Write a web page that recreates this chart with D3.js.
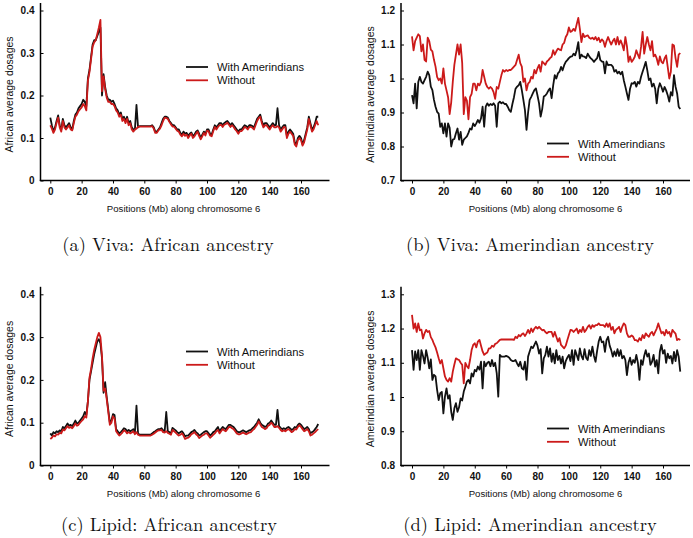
<!DOCTYPE html>
<html><head><meta charset="utf-8">
<script src="https://cdn.jsdelivr.net/npm/d3@7"></script>
<style>body{margin:0;background:#fff}svg{display:block}</style>
</head><body>
<svg id="c" width="693" height="538"></svg>
<script>
const positions = [0,1,2,3,4,5,6,7,8,9,10,11,12,13,14,15,16,17,18,19,20,21,22,23,24,25,26,27,28,29,30,31,32,33,34,35,36,37,38,39,40,41,42,43,44,45,46,47,48,49,50,51,52,53,54,55,56,57,58,59,60,61,62,63,64,65,66,67,68,69,70,71,72,73,74,75,76,77,78,79,80,81,82,83,84,85,86,87,88,89,90,91,92,93,94,95,96,97,98,99,100,101,102,103,104,105,106,107,108,109,110,111,112,113,114,115,116,117,118,119,120,121,122,123,124,125,126,127,128,129,130,131,132,133,134,135,136,137,138,139,140,141,142,143,144,145,146,147,148,149,150,151,152,153,154,155,156,157,158,159,160,161,162,163,164,165,166,167,168,169,170,171];

const vivaAfricanWith = [0.148,0.13,0.115,0.125,0.14,0.153,0.13,0.12,0.145,0.13,0.125,0.13,0.135,0.125,0.12,0.14,0.155,0.16,0.17,0.175,0.18,0.19,0.185,0.175,0.24,0.26,0.29,0.32,0.33,0.33,0.34,0.35,0.36,0.2,0.25,0.22,0.2,0.19,0.19,0.185,0.188,0.18,0.17,0.165,0.155,0.16,0.145,0.15,0.14,0.15,0.135,0.14,0.125,0.12,0.12,0.178,0.125,0.128,0.128,0.128,0.128,0.128,0.128,0.128,0.128,0.13,0.125,0.115,0.115,0.12,0.125,0.135,0.145,0.15,0.15,0.148,0.14,0.135,0.13,0.13,0.125,0.12,0.12,0.112,0.108,0.115,0.11,0.112,0.105,0.11,0.113,0.105,0.108,0.115,0.118,0.11,0.1,0.108,0.115,0.11,0.12,0.12,0.11,0.108,0.12,0.13,0.125,0.13,0.135,0.135,0.13,0.135,0.138,0.14,0.135,0.13,0.135,0.13,0.125,0.12,0.115,0.12,0.12,0.125,0.13,0.128,0.125,0.13,0.13,0.128,0.125,0.135,0.145,0.15,0.155,0.14,0.13,0.135,0.135,0.13,0.125,0.13,0.135,0.13,0.13,0.17,0.13,0.12,0.125,0.13,0.13,0.105,0.115,0.12,0.115,0.11,0.09,0.085,0.1,0.105,0.1,0.085,0.095,0.11,0.125,0.15,0.135,0.12,0.125,0.135,0.15,0.15];
const vivaAfricanWithout = [0.13,0.122,0.112,0.12,0.135,0.148,0.125,0.115,0.14,0.125,0.12,0.125,0.13,0.12,0.118,0.135,0.15,0.155,0.163,0.168,0.172,0.18,0.175,0.165,0.235,0.255,0.285,0.315,0.325,0.33,0.345,0.36,0.378,0.21,0.245,0.215,0.195,0.185,0.185,0.18,0.18,0.175,0.165,0.16,0.15,0.155,0.14,0.145,0.135,0.145,0.13,0.135,0.12,0.115,0.12,0.122,0.126,0.127,0.127,0.127,0.127,0.127,0.127,0.127,0.127,0.128,0.122,0.112,0.112,0.118,0.122,0.13,0.14,0.148,0.147,0.145,0.138,0.132,0.127,0.127,0.122,0.117,0.115,0.108,0.104,0.11,0.105,0.108,0.1,0.106,0.11,0.1,0.104,0.11,0.115,0.105,0.097,0.104,0.112,0.106,0.117,0.116,0.106,0.104,0.116,0.126,0.12,0.126,0.13,0.131,0.126,0.131,0.133,0.136,0.131,0.126,0.13,0.126,0.12,0.116,0.11,0.116,0.116,0.12,0.126,0.124,0.12,0.126,0.126,0.124,0.12,0.13,0.14,0.147,0.15,0.135,0.125,0.13,0.13,0.125,0.12,0.126,0.13,0.125,0.125,0.128,0.125,0.115,0.12,0.126,0.125,0.1,0.11,0.115,0.11,0.105,0.085,0.08,0.095,0.1,0.095,0.082,0.09,0.105,0.12,0.145,0.13,0.115,0.12,0.13,0.14,0.13];

const vivaAmerindianWith = [0.951,0.927,0.985,0.912,0.99,1.005,0.99,0.985,0.995,1.005,1.02,1.01,0.976,0.966,0.937,0.917,0.902,0.897,0.858,0.868,0.839,0.868,0.829,0.868,0.855,0.8,0.82,0.822,0.839,0.853,0.82,0.843,0.805,0.82,0.825,0.83,0.84,0.853,0.85,0.868,0.86,0.868,0.878,0.87,0.883,0.917,0.858,0.917,0.927,0.92,0.925,0.922,0.927,0.92,0.858,0.927,0.932,0.927,0.93,0.925,0.925,0.917,0.907,0.902,0.925,0.945,0.97,0.976,0.98,0.99,0.966,0.937,0.907,0.849,0.9,0.937,0.946,0.956,0.966,0.971,0.95,0.927,0.888,0.91,0.947,0.95,0.956,0.965,0.971,0.942,0.98,1.01,1.0,1.015,1.02,1.034,1.024,1.039,1.049,1.054,1.06,1.064,1.065,1.073,1.068,1.083,1.107,1.059,1.07,1.065,1.064,1.06,1.073,1.065,1.059,1.055,1.049,1.055,1.06,1.078,1.055,1.05,1.049,1.015,1.05,1.039,1.04,1.04,1.035,1.02,1.025,1.015,1.02,1.012,1.02,0.995,0.976,0.956,0.937,0.97,0.986,0.985,0.99,0.976,0.99,0.985,1.005,1.02,1.034,1.049,1.024,0.995,1.0,0.976,0.985,0.97,0.927,0.97,0.986,0.975,0.961,0.975,0.965,0.951,0.932,0.96,0.95,1.01,0.976,0.956,0.917,0.91];
const vivaAmerindianWithout = [1.124,1.083,1.11,1.12,1.13,1.125,1.08,1.1,1.055,1.05,1.12,1.11,1.085,1.08,1.055,1.035,1.005,0.995,1.0,0.985,1.03,0.985,0.965,0.945,0.895,0.93,0.99,1.04,1.07,1.1,1.07,1.1,1.045,0.895,0.945,0.935,0.88,0.945,0.955,0.985,0.985,0.965,0.985,0.98,0.99,1.025,1.005,0.985,0.975,0.97,0.975,0.97,0.96,0.94,0.975,0.97,0.99,1.01,1.025,1.02,1.025,1.022,1.025,1.025,1.03,1.035,1.04,1.055,1.07,1.045,1.035,0.99,1.0,0.965,0.985,0.99,1.005,1.0,1.025,1.015,1.03,1.04,1.02,1.05,1.045,1.04,1.05,1.054,1.06,1.064,1.083,1.07,1.08,1.088,1.085,1.083,1.1,1.105,1.122,1.13,1.15,1.137,1.14,1.146,1.14,1.16,1.178,1.146,1.107,1.132,1.122,1.125,1.127,1.12,1.117,1.12,1.115,1.122,1.112,1.12,1.107,1.115,1.11,1.093,1.11,1.122,1.11,1.1,1.11,1.117,1.1,1.122,1.1,1.112,1.1,1.083,1.122,1.095,1.049,1.065,1.049,1.055,1.064,1.083,1.07,1.059,1.093,1.137,1.073,1.1,1.122,1.1,1.083,1.11,1.065,1.07,1.059,1.04,1.065,1.049,1.045,1.059,1.068,1.034,1.0,1.02,1.1,1.097,1.06,1.034,1.07,1.075];

const lipidAfricanWith = [0.075,0.07,0.078,0.075,0.08,0.078,0.082,0.08,0.09,0.087,0.092,0.098,0.093,0.095,0.092,0.098,0.105,0.098,0.1,0.105,0.11,0.115,0.125,0.118,0.15,0.2,0.22,0.24,0.26,0.275,0.29,0.295,0.285,0.25,0.17,0.195,0.16,0.13,0.1,0.105,0.12,0.118,0.085,0.08,0.075,0.078,0.082,0.087,0.085,0.08,0.083,0.08,0.082,0.085,0.077,0.14,0.075,0.072,0.072,0.072,0.072,0.072,0.072,0.072,0.072,0.075,0.078,0.08,0.083,0.085,0.085,0.087,0.082,0.08,0.125,0.08,0.078,0.075,0.088,0.085,0.082,0.078,0.075,0.078,0.08,0.075,0.068,0.07,0.07,0.074,0.078,0.08,0.083,0.078,0.075,0.07,0.072,0.075,0.078,0.08,0.08,0.075,0.07,0.073,0.078,0.08,0.085,0.09,0.08,0.085,0.09,0.087,0.085,0.09,0.095,0.095,0.092,0.09,0.085,0.08,0.078,0.078,0.08,0.082,0.08,0.078,0.08,0.082,0.083,0.087,0.09,0.095,0.1,0.108,0.1,0.095,0.093,0.09,0.092,0.098,0.1,0.105,0.1,0.095,0.095,0.13,0.092,0.088,0.085,0.087,0.085,0.088,0.09,0.087,0.083,0.085,0.09,0.088,0.095,0.098,0.095,0.09,0.085,0.087,0.09,0.085,0.075,0.078,0.08,0.085,0.09,0.097];
const lipidAfricanWithout = [0.062,0.065,0.07,0.068,0.073,0.072,0.076,0.075,0.084,0.082,0.087,0.092,0.088,0.09,0.087,0.092,0.098,0.093,0.095,0.1,0.104,0.108,0.115,0.112,0.15,0.205,0.225,0.25,0.27,0.285,0.3,0.31,0.3,0.255,0.175,0.18,0.155,0.125,0.095,0.1,0.115,0.11,0.08,0.075,0.07,0.073,0.077,0.082,0.08,0.075,0.078,0.075,0.077,0.08,0.073,0.078,0.072,0.07,0.07,0.07,0.07,0.07,0.07,0.07,0.07,0.072,0.074,0.077,0.08,0.082,0.082,0.083,0.078,0.077,0.08,0.076,0.074,0.072,0.083,0.08,0.077,0.073,0.07,0.072,0.075,0.07,0.062,0.064,0.065,0.068,0.073,0.075,0.078,0.073,0.07,0.064,0.067,0.07,0.072,0.075,0.075,0.07,0.065,0.068,0.072,0.075,0.08,0.083,0.075,0.08,0.085,0.082,0.08,0.085,0.09,0.09,0.087,0.085,0.08,0.075,0.073,0.073,0.075,0.077,0.075,0.073,0.075,0.077,0.078,0.082,0.085,0.09,0.095,0.103,0.096,0.09,0.088,0.085,0.087,0.093,0.095,0.1,0.096,0.09,0.09,0.092,0.088,0.083,0.08,0.082,0.08,0.083,0.085,0.082,0.078,0.08,0.085,0.084,0.09,0.094,0.09,0.085,0.08,0.082,0.085,0.08,0.07,0.072,0.075,0.078,0.082,0.085];

const lipidAmerindianWith = [1.137,1.079,1.133,1.108,1.137,1.079,1.137,1.12,1.098,1.137,1.115,1.084,1.11,1.05,1.065,1.06,1.021,0.991,1.011,1.015,0.952,1.001,1.025,0.995,1.005,0.957,0.933,0.967,0.982,0.957,0.97,0.996,0.99,1.016,1.03,1.045,1.05,1.04,1.069,1.06,1.079,1.075,1.089,1.08,1.103,1.025,1.103,1.09,1.1,1.103,1.09,1.108,1.09,1.1,1.07,1.001,1.123,1.118,1.118,1.118,1.12,1.118,1.115,1.108,1.105,1.105,1.108,1.098,1.09,1.103,1.084,1.08,1.103,1.05,1.118,1.133,1.147,1.143,1.152,1.162,1.15,1.127,1.14,1.069,1.113,1.123,1.147,1.118,1.142,1.103,1.127,1.098,1.137,1.108,1.12,1.098,1.118,1.084,1.105,1.115,1.123,1.105,1.137,1.094,1.137,1.123,1.108,1.142,1.12,1.11,1.14,1.115,1.108,1.137,1.12,1.147,1.12,1.103,1.135,1.162,1.176,1.16,1.162,1.132,1.166,1.176,1.15,1.137,1.118,1.133,1.12,1.14,1.12,1.137,1.113,1.12,1.108,1.064,1.1,1.115,1.094,1.108,1.1,1.123,1.1,1.05,1.108,1.094,1.12,1.137,1.118,1.127,1.094,1.103,1.123,1.089,1.108,1.069,1.133,1.152,1.127,1.137,1.1,1.127,1.113,1.12,1.098,1.132,1.105,1.137,1.118,1.074];
const lipidAmerindianWithout = [1.24,1.2,1.215,1.19,1.215,1.195,1.197,1.171,1.186,1.196,1.19,1.193,1.175,1.167,1.155,1.145,1.13,1.113,1.098,1.108,1.084,1.06,1.05,1.045,1.055,1.045,1.074,1.095,1.113,1.11,1.108,1.1,1.094,1.04,1.1,1.09,1.084,1.108,1.137,1.152,1.157,1.145,1.162,1.167,1.15,1.133,1.123,1.127,1.13,1.142,1.142,1.15,1.147,1.155,1.157,1.162,1.167,1.168,1.168,1.168,1.168,1.168,1.168,1.168,1.168,1.167,1.176,1.172,1.181,1.177,1.183,1.186,1.178,1.186,1.196,1.186,1.2,1.19,1.2,1.205,1.2,1.205,1.2,1.195,1.196,1.19,1.186,1.19,1.19,1.19,1.176,1.19,1.176,1.162,1.172,1.152,1.147,1.142,1.15,1.166,1.181,1.196,1.195,1.19,1.195,1.2,1.186,1.196,1.19,1.205,1.19,1.196,1.205,1.21,1.2,1.21,1.205,1.21,1.21,1.215,1.21,1.21,1.21,1.205,1.215,1.205,1.215,1.196,1.205,1.186,1.196,1.2,1.205,1.19,1.205,1.215,1.21,1.186,1.176,1.176,1.18,1.176,1.166,1.166,1.162,1.172,1.166,1.181,1.172,1.186,1.18,1.176,1.186,1.19,1.18,1.19,1.2,1.215,1.2,1.186,1.19,1.18,1.196,1.186,1.19,1.176,1.196,1.19,1.185,1.166,1.17,1.166];

const xTicks = [0,20,40,60,80,100,120,140,160];
const africanTicks = [0,0.1,0.2,0.3,0.4];
const africanTickLabels = ["0","0.1","0.2","0.3","0.4"];
const vivaAmerindianTicks = [0.7,0.8,0.9,1.0,1.1,1.2];
const vivaAmerindianTickLabels = ["0.7","0.8","0.9","1","1.1","1.2"];
const lipidAmerindianTicks = [0.8,0.9,1.0,1.1,1.2,1.3];
const lipidAmerindianTickLabels = ["0.8","0.9","1","1.1","1.2","1.3"];
const seriesNames = ["With Amerindians","Without"];
const xTitle = "Positions (Mb) along chromosome 6";
const captions = ["(a) Viva: African ancestry","(b) Viva: Amerindian ancestry","(c) Lipid: African ancestry","(d) Lipid: Amerindian ancestry"];

const BLACK = "#111", RED = "#cc1a1a";
const panels = [
  {w: vivaAfricanWith, wo: vivaAfricanWithout, ticks: africanTicks, labels: africanTickLabels, ytitle: "African average dosages", cap: captions[0],
   left: 40.5, x0: 50.3, x160: 301, bottom: 180.5, top: 10.5, ytx: 9, capX: 168, capY: 251, legX: 186, legY: 67},
  {w: vivaAmerindianWith, wo: vivaAmerindianWithout, ticks: vivaAmerindianTicks, labels: vivaAmerindianTickLabels, ytitle: "Amerindian average dosages", cap: captions[1],
   left: 401, x0: 412, x160: 663, bottom: 180.5, top: 10.5, ytx: 370, capX: 530, capY: 251, legX: 547, legY: 143.5},
  {w: lipidAfricanWith, wo: lipidAfricanWithout, ticks: africanTicks, labels: africanTickLabels, ytitle: "African average dosages", cap: captions[2],
   left: 40.5, x0: 50.3, x160: 301, bottom: 465.5, top: 294.3, ytx: 9, capX: 169, capY: 531, legX: 186, legY: 351.5},
  {w: lipidAmerindianWith, wo: lipidAmerindianWithout, ticks: lipidAmerindianTicks, labels: lipidAmerindianTickLabels, ytitle: "Amerindian average dosages", cap: captions[3],
   left: 401, x0: 412, x160: 663, bottom: 465.5, top: 294.3, ytx: 370, capX: 530, capY: 531, legX: 547, legY: 428.5}
];

const svg = d3.select("#c");
const SANS = "'Liberation Sans', Arial, Helvetica, sans-serif";

panels.forEach(p => {
  const x = d3.scaleLinear().domain([0,160]).range([p.x0, p.x160]);
  const y = d3.scaleLinear().domain([p.ticks[0], p.ticks[p.ticks.length-1]]).range([p.bottom, p.top]);
  const g = svg.append("g");

  g.append("line").attr("x1", p.left).attr("x2", p.left).attr("y1", p.bottom+0.5).attr("y2", p.top-7.5)
    .attr("stroke","#000").attr("stroke-width",1.5);
  g.append("line").attr("x1", p.left-0.7).attr("x2", p.left+289).attr("y1", p.bottom).attr("y2", p.bottom)
    .attr("stroke","#000").attr("stroke-width",1.5);

  const ax = g.append("g").attr("transform", `translate(0,${p.bottom})`)
    .call(d3.axisBottom(x).tickValues(xTicks).tickSize(3).tickPadding(4).tickFormat(d3.format("d")));
  ax.select(".domain").remove();
  ax.selectAll("text").attr("font-family", SANS).attr("font-size", 10).attr("font-weight","bold").attr("fill","#111");
  ax.selectAll("line").attr("stroke","#000");

  const ay = g.append("g").attr("transform", `translate(${p.left},0)`)
    .call(d3.axisLeft(y).tickValues(p.ticks).tickSize(-3).tickPadding(6).tickFormat((d,i) => p.labels[i]));
  ay.select(".domain").remove();
  ay.selectAll("text").attr("font-family", SANS).attr("font-size", 10).attr("font-weight","bold").attr("fill","#111");
  ay.selectAll("line").attr("stroke","#000");

  g.append("text").attr("x", (p.x0+p.x160)/2 + 8).attr("y", p.bottom + 31)
    .attr("text-anchor","middle").attr("font-family", SANS).attr("font-size", 9.6).attr("fill","#111").text(xTitle);
  g.append("text").attr("transform", `translate(${p.ytx + 3.5},${(p.bottom+p.top)/2 - 1}) rotate(-90)`)
    .attr("text-anchor","middle").attr("font-family", SANS).attr("font-size", 10.5).attr("fill","#111").text(p.ytitle);

  const line = d3.line().x((d,i) => x(positions[i])).y(d => y(d));
  g.append("path").datum(p.w).attr("d", line).attr("fill","none").attr("stroke", BLACK).attr("stroke-width",1.8).attr("stroke-linejoin","round");
  g.append("path").datum(p.wo).attr("d", line).attr("fill","none").attr("stroke", RED).attr("stroke-width",1.8).attr("stroke-linejoin","round");

  [BLACK, RED].forEach((c, i) => {
    const ly = p.legY + i*13.3;
    g.append("line").attr("x1", p.legX).attr("x2", p.legX+22).attr("y1", ly).attr("y2", ly).attr("stroke", c).attr("stroke-width",1.8);
    g.append("text").attr("x", p.legX+31).attr("y", ly+4).attr("font-family", SANS).attr("font-size", 11.2).attr("fill","#111").text(seriesNames[i]);
  });

  g.append("text").attr("x", p.capX).attr("y", p.capY).attr("text-anchor","middle")
    .attr("font-family","'Latin Modern Roman','CMU Serif','Liberation Serif','DejaVu Serif',serif").attr("font-size", 18.5).attr("fill","#111").text(p.cap);
});
</script>
</body></html>
